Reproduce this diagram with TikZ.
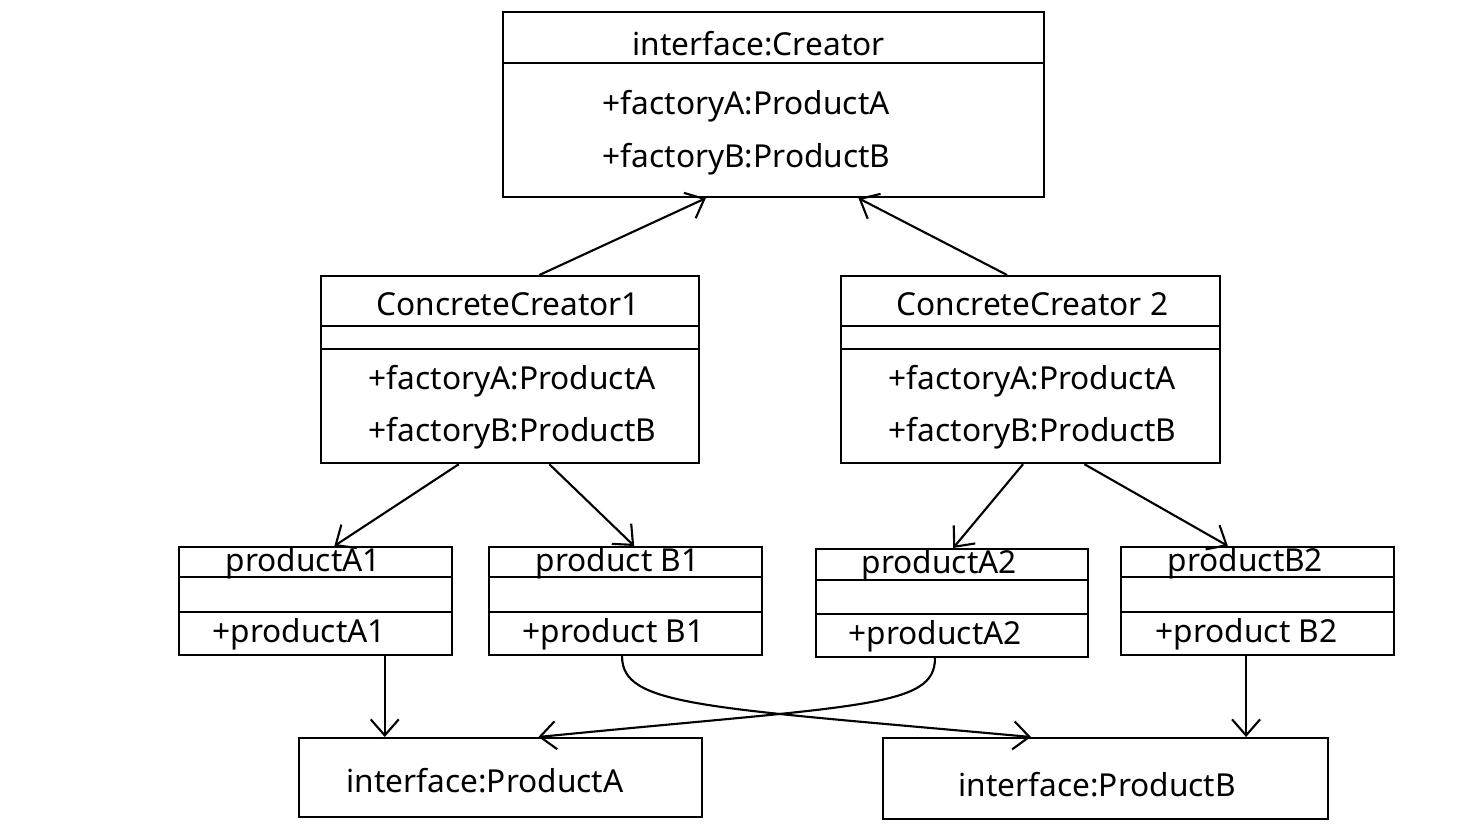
\documentclass[tikz,border=0pt]{standalone}
\usepackage{fontspec}
\setmainfont{Noto Sans}
\usetikzlibrary{calc,arrows.meta}

\tikzset{
  cls/.style={draw, line width=0.6pt, inner sep=0pt, anchor=north west},
  txt/.style={anchor=base west, inner sep=0pt, font=\fontsize{9}{11}\selectfont},
  arr/.style={line width=0.6pt, -{Straight Barb[length=1.6mm,width=2.8mm]}},
}
\newcommand{\classline}[2]{\draw[line width=0.6pt] ($(#1.north west)+(0,#2)$) -- ($(#1.north east)+(0,#2)$);}

\begin{document}
\begin{tikzpicture}[x=0.01cm,y=-0.01cm]
  \useasboundingbox (0,0) rectangle (1462,828);

  % Boxes
  \node[cls, minimum width=5.41cm, minimum height=1.85cm] (creator) at (502,11) {};
  \classline{creator}{52}
  \node[cls, minimum width=3.78cm, minimum height=1.87cm] (cc1) at (320,275) {};
  \classline{cc1}{51} \classline{cc1}{74}
  \node[cls, minimum width=3.79cm, minimum height=1.87cm] (cc2) at (840,275) {};
  \classline{cc2}{51} \classline{cc2}{74}
  \node[cls, minimum width=2.73cm, minimum height=1.08cm] (pa1) at (178,546) {};
  \classline{pa1}{31} \classline{pa1}{66}
  \node[cls, minimum width=2.73cm, minimum height=1.08cm] (pb1) at (488,546) {};
  \classline{pb1}{31} \classline{pb1}{66}
  \node[cls, minimum width=2.72cm, minimum height=1.08cm] (pa2) at (815,548) {};
  \classline{pa2}{32} \classline{pa2}{66}
  \node[cls, minimum width=2.73cm, minimum height=1.08cm] (pb2) at (1120,546) {};
  \classline{pb2}{31} \classline{pb2}{66}
  \node[cls, minimum width=4.03cm, minimum height=0.79cm] (ia) at (298,737) {};
  \node[cls, minimum width=4.45cm, minimum height=0.81cm] (ib) at (882,737) {};

  % Texts
  \node[txt] (creator-t) at (632,56) {interface:Creator};
  \node[txt] (creator-m1) at (602,115) {+factoryA:ProductA};
  \node[txt] (creator-m2) at (602,168) {+factoryB:ProductB};
  \node[txt] (cc1-t) at (376,316) {ConcreteCreator1};
  \node[txt] (cc1-m1) at (368,390) {+factoryA:ProductA};
  \node[txt] (cc1-m2) at (368,442) {+factoryB:ProductB};
  \node[txt] (cc2-t) at (896,316) {ConcreteCreator 2};
  \node[txt] (cc2-m1) at (888,390) {+factoryA:ProductA};
  \node[txt] (cc2-m2) at (888,442) {+factoryB:ProductB};
  \node[txt] (pa1-t) at (225,572) {productA1};
  \node[txt] (pa1-m) at (212,643) {+productA1};
  \node[txt] (pb1-t) at (535,572) {product B1};
  \node[txt] (pb1-m) at (522,643) {+product B1};
  \node[txt] (pa2-t) at (861,574) {productA2};
  \node[txt] (pa2-m) at (848,645) {+productA2};
  \node[txt] (pb2-t) at (1167,572) {productB2};
  \node[txt] (pb2-m) at (1155,643) {+product B2};
  \node[txt] (ia-t) at (346,793) {interface:ProductA};
  \node[txt] (ib-t) at (958,797) {interface:ProductB};

  % Arrows
  \coordinate (pa1-s) at ($(pa1.south west)!0.751!(pa1.south east)$);
  \coordinate (pb2-s) at ($(pb2.south west)!0.458!(pb2.south east)$);
  \draw[arr] ($(cc1.north west)!0.577!(cc1.north east)$) -- ($(creator.south west)!0.375!(creator.south east)$);
  \draw[arr] ($(cc2.north west)!0.438!(cc2.north east)$) -- ($(creator.south west)!0.656!(creator.south east)$);
  \draw[arr] ($(cc1.south west)!0.365!(cc1.south east)$) -- ($(pa1.north west)!0.568!(pa1.north east)$);
  \draw[arr] ($(cc1.south west)!0.603!(cc1.south east)$) -- ($(pb1.north west)!0.531!(pb1.north east)$);
  \draw[arr] ($(cc2.south west)!0.48!(cc2.south east)$) -- ($(pa2.north west)!0.504!(pa2.north east)$);
  \draw[arr] ($(cc2.south west)!0.641!(cc2.south east)$) -- ($(pb2.north west)!0.392!(pb2.north east)$);
  \draw[arr] (pa1-s) -- (pa1-s |- ia.north);
  \draw[arr] (pb2-s) -- (pb2-s |- ib.north);
  \draw[arr] ($(pb1.south west)!0.487!(pb1.south east)$) .. controls +(0,50) and +(-330,-30) .. ($(ib.north west)!0.333!(ib.north east)$);
  \draw[arr] ($(pa2.south west)!0.4375!(pa2.south east)$) .. controls +(0,50) and +(323,-32) .. ($(ia.north west)!0.593!(ia.north east)$);
\end{tikzpicture}
\end{document}
